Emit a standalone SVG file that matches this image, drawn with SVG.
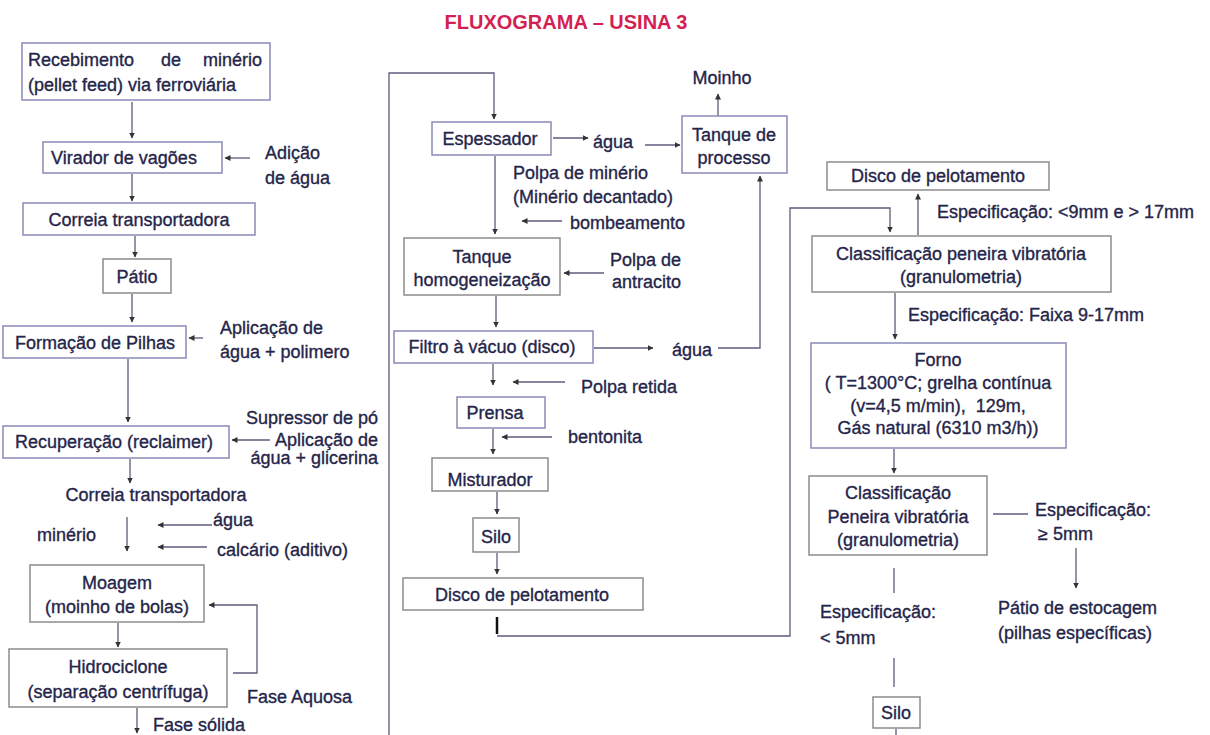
<svg xmlns="http://www.w3.org/2000/svg" width="1210" height="735" viewBox="0 0 1210 735">
<defs>
<style>
.box{fill:#fff;stroke:#8a8ab8;stroke-width:1.5}
.gbox{fill:#fff;stroke:#8c8c8c;stroke-width:1.5}
.t{font-family:"Liberation Sans",Arial,sans-serif;font-size:18px;fill:#25254a;stroke:#25254a;stroke-width:0.35}
.c{text-anchor:middle}
.e{text-anchor:end}
.ln{fill:none;stroke:#5c5c7c;stroke-width:1.3}
.title{font-family:"Liberation Sans",Arial,sans-serif;font-size:20px;font-weight:bold;fill:#d41f52;text-anchor:middle}
</style>
<marker id="ah" markerWidth="7" markerHeight="7" refX="5.5" refY="3.5" orient="auto" markerUnits="userSpaceOnUse">
<path d="M0,0.5 L6,3.5 L0,6.5 z" fill="#333"/>
</marker>
</defs>
<rect width="1210" height="735" fill="#fff"/>
<text class="title" x="566" y="29">FLUXOGRAMA – USINA 3</text>

<g id="connectors">
<path class="ln" d="M132,102 V138" marker-end="url(#ah)"/>
<path class="ln" d="M250,158 H225" marker-end="url(#ah)"/>
<path class="ln" d="M132,174 V201" marker-end="url(#ah)"/>
<path class="ln" d="M135,236 V257" marker-end="url(#ah)"/>
<path class="ln" d="M132,294 V322" marker-end="url(#ah)"/>
<path class="ln" d="M203,338 H189" marker-end="url(#ah)"/>
<path class="ln" d="M128,359 V422" marker-end="url(#ah)"/>
<path class="ln" d="M270,440 H232" marker-end="url(#ah)"/>
<path class="ln" d="M130,459 V483" marker-end="url(#ah)"/>
<path class="ln" d="M127,517 V551" marker-end="url(#ah)"/>
<path class="ln" d="M212,525 H158" marker-end="url(#ah)"/>
<path class="ln" d="M207,547 H158" marker-end="url(#ah)"/>
<path class="ln" d="M118,623 V647" marker-end="url(#ah)"/>
<path class="ln" d="M233,673 H257 V605 H209" marker-end="url(#ah)"/>
<path class="ln" d="M137,708 V733" marker-end="url(#ah)"/>
<path class="ln" d="M389,735 V73 H494 V119" marker-end="url(#ah)"/>
<path class="ln" d="M553,138 H588" marker-end="url(#ah)"/>
<path class="ln" d="M645,145 H680" marker-end="url(#ah)"/>
<path class="ln" d="M718,116 V94" marker-end="url(#ah)"/>
<path class="ln" d="M495,156 V234" marker-end="url(#ah)"/>
<path class="ln" d="M562,221 H522" marker-end="url(#ah)"/>
<path class="ln" d="M604,273 H564" marker-end="url(#ah)"/>
<path class="ln" d="M496,296 V327" marker-end="url(#ah)"/>
<path class="ln" d="M594,348 H653" marker-end="url(#ah)"/>
<path class="ln" d="M718,348 H760 V176" marker-end="url(#ah)"/>
<path class="ln" d="M493,364 V385" marker-end="url(#ah)"/>
<path class="ln" d="M565,382 H513" marker-end="url(#ah)"/>
<path class="ln" d="M493,429 V454" marker-end="url(#ah)"/>
<path class="ln" d="M552,437 H502" marker-end="url(#ah)"/>
<path class="ln" d="M497,492 V514" marker-end="url(#ah)"/>
<path class="ln" d="M497,553 V574" marker-end="url(#ah)"/>
<path d="M497,617 V634" stroke="#111" stroke-width="2.5" fill="none"/>
<path class="ln" d="M497,636 H790 V208 H890 V232" marker-end="url(#ah)"/>
<path class="ln" d="M918,235 V194" marker-end="url(#ah)"/>
<path class="ln" d="M895,293 V339" marker-end="url(#ah)"/>
<path class="ln" d="M894,449 V473" marker-end="url(#ah)"/>
<path class="ln" d="M993,514 H1028"/>
<path class="ln" d="M1076,548 V588" marker-end="url(#ah)"/>
<path class="ln" d="M894,568 V593"/>
<path class="ln" d="M894,658 V687"/>
<path class="ln" d="M896,729 V735"/>
</g>

<g id="n-recebimento">
<rect class="box" x="22" y="43" width="248" height="57"/>
<text class="t" x="28" y="66">Recebimento</text>
<text class="t c" x="171" y="66">de</text>
<text class="t e" x="262" y="66">minério</text>
<text class="t" x="28" y="91">(pellet feed) via ferroviária</text>
</g>
<g id="n-virador">
<rect class="box" x="43" y="142" width="179" height="31"/>
<text class="t c" x="124" y="164">Virador de vagões</text>
</g>
<g id="l-adicao">
<text class="t" x="265" y="159">Adição</text>
<text class="t" x="265" y="184">de água</text>
</g>
<g id="n-correia">
<rect class="box" x="23" y="203" width="232" height="32"/>
<text class="t c" x="139" y="226">Correia transportadora</text>
</g>
<g id="n-patio">
<rect class="gbox" x="103" y="259" width="68" height="34"/>
<text class="t c" x="137" y="283">Pátio</text>
</g>
<g id="n-formacao">
<rect class="box" x="3" y="326" width="183" height="32"/>
<text class="t c" x="95" y="349">Formação de Pilhas</text>
</g>
<g id="l-polimero">
<text class="t" x="220" y="334">Aplicação de</text>
<text class="t" x="220" y="358">água + polimero</text>
</g>
<g id="n-recuperacao">
<rect class="box" x="3" y="426" width="226" height="32"/>
<text class="t c" x="114" y="448">Recuperação (reclaimer)</text>
</g>
<g id="l-supressor">
<text class="t e" x="378" y="424">Supressor de pó</text>
<text class="t e" x="378" y="446">Aplicação de</text>
<text class="t e" x="378" y="464">água + glicerina</text>
</g>
<g id="l-correia2">
<text class="t c" x="156" y="501">Correia transportadora</text>
<text class="t" x="37" y="541">minério</text>
<text class="t" x="213" y="526">água</text>
<text class="t" x="217" y="556">calcário (aditivo)</text>
</g>
<g id="n-moagem">
<rect class="gbox" x="30" y="565" width="174" height="57"/>
<text class="t c" x="117" y="589">Moagem</text>
<text class="t c" x="117" y="613">(moinho de bolas)</text>
</g>
<g id="n-hidrociclone">
<rect class="gbox" x="9" y="649" width="218" height="58"/>
<text class="t c" x="118" y="673">Hidrociclone</text>
<text class="t c" x="118" y="698">(separação centrífuga)</text>
</g>
<g id="l-fases">
<text class="t" x="247" y="703">Fase Aquosa</text>
<text class="t" x="153" y="731">Fase sólida</text>
</g>

<g id="n-espessador">
<rect class="box" x="432" y="122" width="119" height="33"/>
<text class="t c" x="490" y="145">Espessador</text>
</g>
<g id="l-agua1"><text class="t" x="593" y="148">água</text></g>
<g id="n-tanque-processo">
<rect class="box" x="682" y="116" width="105" height="57"/>
<text class="t c" x="734" y="141">Tanque de</text>
<text class="t c" x="734" y="164">processo</text>
</g>
<g id="l-moinho"><text class="t c" x="722" y="84">Moinho</text></g>
<g id="l-polpa">
<text class="t" x="513" y="179">Polpa de minério</text>
<text class="t" x="513" y="203">(Minério decantado)</text>
<text class="t" x="570" y="229">bombeamento</text>
</g>
<g id="n-tanque-homog">
<rect class="gbox" x="404" y="238" width="156" height="57"/>
<text class="t c" x="482" y="263">Tanque</text>
<text class="t c" x="482" y="286">homogeneização</text>
</g>
<g id="l-antracito">
<text class="t" x="610" y="266">Polpa de</text>
<text class="t" x="612" y="288">antracito</text>
</g>
<g id="n-filtro">
<rect class="box" x="394" y="331" width="199" height="32"/>
<text class="t c" x="492" y="353">Filtro à vácuo (disco)</text>
</g>
<g id="l-agua2"><text class="t" x="672" y="356">água</text></g>
<g id="l-retida"><text class="t" x="581" y="393">Polpa retida</text></g>
<g id="n-prensa">
<rect class="box" x="457" y="397" width="88" height="31"/>
<text class="t c" x="495" y="419">Prensa</text>
</g>
<g id="l-bentonita"><text class="t" x="568" y="443">bentonita</text></g>
<g id="n-misturador">
<rect class="gbox" x="432" y="458" width="116" height="33"/>
<text class="t c" x="490" y="486">Misturador</text>
</g>
<g id="n-silo1">
<rect class="gbox" x="473" y="518" width="46" height="34"/>
<text class="t c" x="496" y="543">Silo</text>
</g>
<g id="n-disco1">
<rect class="gbox" x="403" y="578" width="240" height="32"/>
<text class="t c" x="522" y="601">Disco de pelotamento</text>
</g>

<g id="n-disco2">
<rect class="gbox" x="827" y="162" width="222" height="28"/>
<text class="t c" x="938" y="182">Disco de pelotamento</text>
</g>
<g id="l-spec1"><text class="t" x="937" y="218">Especificação: &lt;9mm e &gt; 17mm</text></g>
<g id="n-class1">
<rect class="gbox" x="812" y="236" width="299" height="56"/>
<text class="t c" x="961" y="260">Classificação peneira vibratória</text>
<text class="t c" x="961" y="283">(granulometria)</text>
</g>
<g id="l-spec2"><text class="t" x="908" y="321">Especificação: Faixa 9-17mm</text></g>
<g id="n-forno">
<rect class="box" x="811" y="343" width="255" height="105"/>
<text class="t c" x="938" y="366">Forno</text>
<text class="t c" x="938" y="389">( T=1300°C; grelha contínua</text>
<text class="t c" x="938" y="412">(v=4,5 m/min),&#160; 129m,</text>
<text class="t c" x="938" y="434">Gás natural (6310 m3/h))</text>
</g>
<g id="n-class2">
<rect class="gbox" x="809" y="476" width="178" height="79"/>
<text class="t c" x="898" y="499">Classificação</text>
<text class="t c" x="898" y="523">Peneira vibratória</text>
<text class="t c" x="898" y="546">(granulometria)</text>
</g>
<g id="l-spec3">
<text class="t" x="1035" y="516">Especificação:</text>
<text class="t" x="1038" y="540">≥ 5mm</text>
</g>
<g id="l-patio-estoc">
<text class="t" x="998" y="614">Pátio de estocagem</text>
<text class="t" x="998" y="639">(pilhas específicas)</text>
</g>
<g id="l-spec4">
<text class="t" x="820" y="618">Especificação:</text>
<text class="t" x="820" y="644">&lt; 5mm</text>
</g>
<g id="n-silo2">
<rect class="gbox" x="873" y="697" width="47" height="31"/>
<text class="t c" x="896" y="719">Silo</text>
</g>
</svg>
